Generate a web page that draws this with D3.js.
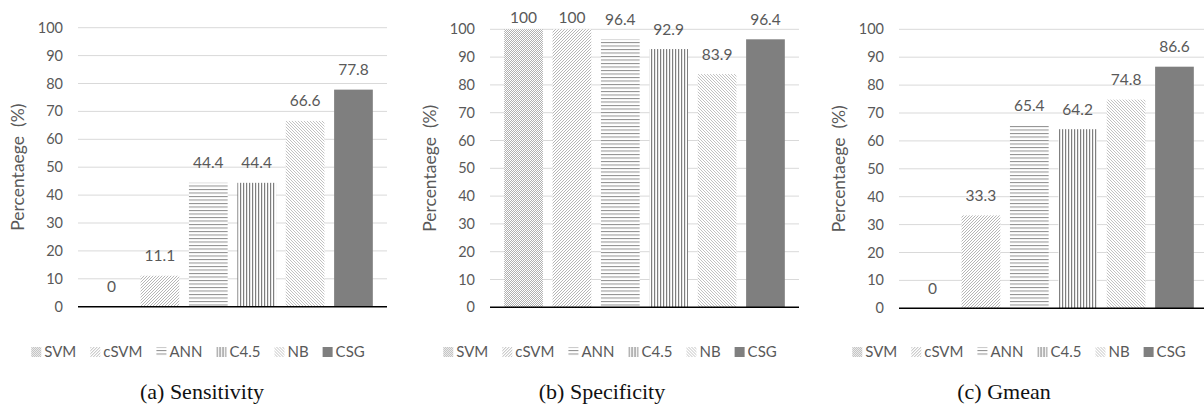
<!DOCTYPE html>
<meta charset="utf-8">
<style>
body { margin: 0; background: #fff; }
text { font-family: Lato, "Open Sans", sans-serif; fill: #595959; }
.caption { font-family: "Liberation Serif", "DejaVu Serif", serif; fill: #111; font-size: 22px; }
.grid { stroke: #d9d9d9; stroke-width: 1; }
.base { stroke: #000; stroke-width: 1.6; }
</style>
<body>
<script src="https://d3js.org/d3.v7.min.js"></script>
<script>

var width = 1204,
    height = 407;

// data
var methods = ["SVM", "cSVM", "ANN", "C4.5", "NB", "CSG"];
var sensitivity = [0, 11.1, 44.4, 44.4, 66.6, 77.8];
var specificity = [100, 100, 96.4, 92.9, 83.9, 96.4];
var gmean = [0, 33.3, 65.4, 64.2, 74.8, 86.6];
var captions = ["(a) Sensitivity", "(b) Specificity", "(c) Gmean"];
var yTicks = d3.range(0, 101, 10);
var yTitle = "Percentaege  (%)";

// where each small chart sits
var panels = [
    { values: sensitivity, caption: captions[0], g0: 78,  top: 27.7, bottom: 306.7, capX: 202 },
    { values: specificity, caption: captions[1], g0: 490, top: 29.3, bottom: 307.3, capX: 602 },
    { values: gmean,       caption: captions[2], g0: 899, top: 29.3, bottom: 308.3, capX: 1004 }
];

var svg = d3.select("body").append("svg")
    .attr("width", width)
    .attr("height", height);

// hatch patterns, one per method
var defs = svg.append("defs");

function pattern(id, w, h) {
    var p = defs.append("pattern")
        .attr("id", id)
        .attr("patternUnits", "userSpaceOnUse")
        .attr("width", w)
        .attr("height", h);
    p.append("rect").attr("width", w).attr("height", h).attr("fill", "#fff");
    return p;
}

// dotted look for SVM: small diamond of grey pixels in a 4x4 tile
var pSvm = pattern("p-svm", 4, 4).attr("shape-rendering", "crispEdges");
[[1, 0], [0, 1], [2, 1], [1, 2], [3, 2], [2, 3], [0, 3], [3, 0]].forEach(function(p) {
    pSvm.append("rect").attr("x", p[0]).attr("y", p[1])
        .attr("width", 1).attr("height", 1).attr("fill", "#b0b0b0");
});

pattern("p-csvm", 3, 3).append("path")
    .attr("d", "M0,3L3,0M-1,1L1,-1M2,4L4,2")
    .attr("stroke", "#a3a3a3").attr("stroke-width", 0.8);

pattern("p-ann", 4, 3.5).append("rect")
    .attr("y", 0).attr("width", 4).attr("height", 1).attr("fill", "#8f8f8f");

pattern("p-c45", 3, 4).append("rect")
    .attr("x", 0).attr("width", 1.2).attr("height", 4).attr("fill", "#7f7f7f");

pattern("p-nb", 3, 3).append("path")
    .attr("d", "M0,0L3,3M-1,2L1,4M2,-1L4,1")
    .attr("stroke", "#a8a8a8").attr("stroke-width", 0.7);

var fills = ["url(#p-svm)", "url(#p-csvm)", "url(#p-ann)", "url(#p-c45)", "url(#p-nb)", "#7f7f7f"];

panels.forEach(function(pn) {
    var g = svg.append("g");

    var x = d3.scaleBand()
        .domain(methods)
        .range([pn.g0 + 4.5, pn.g0 + 304.5])
        .paddingInner(0.2)
        .paddingOuter(0.2);

    var y = d3.scaleLinear()
        .domain([0, 100])
        .range([pn.bottom, pn.top]);

    // gridlines
    g.append("g").selectAll("line")
        .data(yTicks.filter(function(d) { return d > 0; }))
        .enter().append("line")
        .attr("class", "grid")
        .attr("x1", pn.g0).attr("x2", pn.g0 + 309)
        .attr("y1", function(d) { return y(d); })
        .attr("y2", function(d) { return y(d); });

    // tick labels
    g.append("g").selectAll("text")
        .data(yTicks)
        .enter().append("text")
        .attr("x", pn.g0 - 15)
        .attr("y", function(d) { return y(d) + 5; })
        .attr("text-anchor", "end")
        .style("font-size", "14.5px")
        .text(function(d) { return d; });

    // bars
    g.append("g").selectAll("rect")
        .data(pn.values)
        .enter().append("rect")
        .attr("x", function(d, i) { return x(methods[i]); })
        .attr("width", x.bandwidth())
        .attr("y", function(d) { return y(d); })
        .attr("height", function(d) { return y(0) - y(d); })
        .attr("fill", function(d, i) { return fills[i]; });

    // baseline
    g.append("line")
        .attr("class", "base")
        .attr("x1", pn.g0).attr("x2", pn.g0 + 309)
        .attr("y1", y(0)).attr("y2", y(0));

    // value labels (pushed down when they hit the top)
    g.append("g").selectAll("text")
        .data(pn.values)
        .enter().append("text")
        .attr("x", function(d, i) { return x(methods[i]) + x.bandwidth() / 2; })
        .attr("y", function(d) { return Math.max(y(d) - 14.5, 23); })
        .attr("text-anchor", "middle")
        .style("font-size", "15.5px")
        .text(function(d) { return d; });

    // axis title
    g.append("text")
        .attr("transform", "translate(" + (pn.g0 - 54) + "," + ((pn.top + pn.bottom) / 2) + ") rotate(-90)")
        .attr("text-anchor", "middle")
        .style("font-size", "17.5px")
        .style("white-space", "pre")
        .text(yTitle);

    // legend
    var lg = g.append("g");
    var cx = 0;
    methods.forEach(function(m, i) {
        var it = lg.append("g").attr("transform", "translate(" + cx + ",0)");
        it.append("rect")
            .attr("y", 347).attr("width", 10).attr("height", 10)
            .attr("fill", fills[i]);
        var t = it.append("text")
            .attr("x", 13).attr("y", 357.3)
            .style("font-size", "15px")
            .text(m);
        cx += 13 + t.node().getComputedTextLength() + 14;
    });
    cx -= 14;
    lg.attr("transform", "translate(" + (pn.g0 + 120 - cx / 2) + ",0)");

    // caption
    g.append("text")
        .attr("class", "caption")
        .attr("x", pn.capX)
        .attr("y", 399)
        .attr("text-anchor", "middle")
        .text(pn.caption);
});

</script>
